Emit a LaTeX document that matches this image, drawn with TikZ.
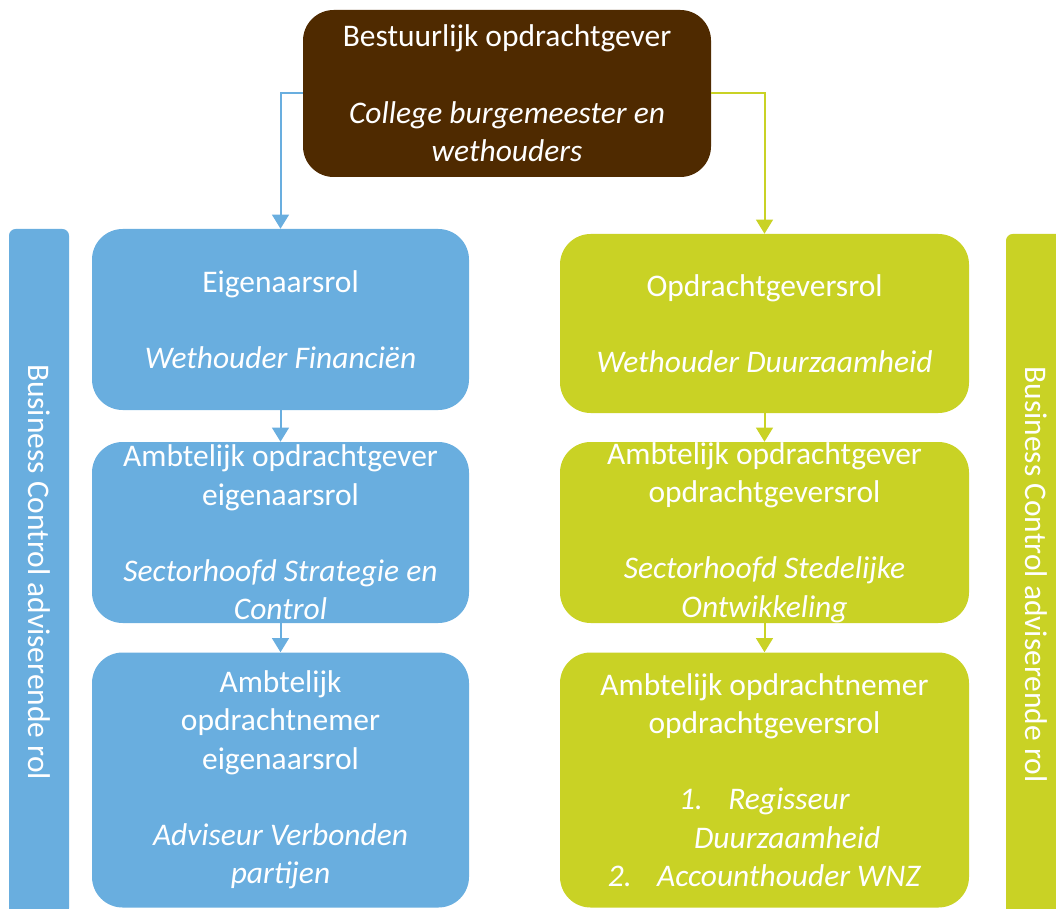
\documentclass[tikz,border=0pt]{standalone}
\usepackage{fontspec}
\setmainfont{Carlito}
\usetikzlibrary{arrows.meta}
\definecolor{cbrown}{HTML}{4F2A00}
\definecolor{cblue}{HTML}{69AEDF}
\definecolor{cgreen}{HTML}{C9D225}
\begin{document}
\begin{tikzpicture}[x=0.75pt,y=-0.75pt,
  txt/.style={text=white,align=center,font=\fontsize{23.6}{28.7}\selectfont},
  box/.style={txt,rounded corners=23pt,inner sep=0pt},
  lbox/.style={box,fill=cblue,minimum width=282.75pt},
  rbox/.style={box,fill=cgreen,minimum width=306.75pt},
  sidebar/.style={txt,rounded corners=5pt,inner sep=0pt,rotate=-90,minimum height=45pt},
  arr/.style={line width=1.5pt,-{Triangle[width=12.5pt,length=10.5pt]}}]
\useasboundingbox (0,0) rectangle (1056,909);
\clip (0,0) rectangle (1056,909);
% top
\node[box,fill=cbrown,minimum width=306pt,minimum height=125.25pt] (top) at (507,93.5)
  {Bestuurlijk opdrachtgever\\[28.7pt]\textit{College burgemeester en}\\\textit{wethouders}};
% left column
\node[lbox,minimum height=135.75pt] (lb1) at (280.5,319.5)
  {Eigenaarsrol\\[28.7pt]\textit{Wethouder Financiën}};
\node[lbox,minimum height=135.75pt] (lb2) at (280.5,532.5)
  {Ambtelijk opdrachtgever\\eigenaarsrol\\[28.7pt]\textit{Sectorhoofd Strategie en}\\\textit{Control}};
\node[lbox,minimum height=191.25pt] (lb3) at (280.5,780)
  {Ambtelijk\\opdrachtnemer\\eigenaarsrol\\[28.7pt]\textit{Adviseur Verbonden}\\\textit{partijen}};
% right column
\node[rbox,minimum height=134.25pt] (rb1) at (764.5,323.5)
  {Opdrachtgeversrol\\[28.7pt]\textit{Wethouder Duurzaamheid}};
\node[rbox,minimum height=135.75pt] (rb2) at (764.5,532.5)
  {Ambtelijk opdrachtgever\\opdrachtgeversrol\\[28.7pt]\textit{Sectorhoofd Stedelijke}\\\textit{Ontwikkeling}};
\node[rbox,minimum height=191.25pt] (rb3) at (764.5,780)
  {Ambtelijk opdrachtnemer\\opdrachtgeversrol\\[28.7pt]\textit{1.\hspace{19pt}Regisseur}\\\hspace*{34pt}\textit{Duurzaamheid}\\\textit{2.\hspace{19pt}Accounthouder WNZ}};
% side bars
\node[sidebar,fill=cblue,minimum width=514.5pt] (lbar) at (39,572) {Business Control adviserende rol};
\node[sidebar,fill=cgreen,minimum width=510.75pt] (rbar) at (1036,574.5) {Business Control adviserende rol};
% arrows
\draw[arr,cblue] (top.west) -| (lb1.north);
\draw[arr,cgreen] (top.east) -| (rb1.north);
\draw[arr,cblue] (lb1.south) -- (lb2.north);
\draw[arr,cblue] (lb2.south) -- (lb3.north);
\draw[arr,cgreen] (rb1.south) -- (rb2.north);
\draw[arr,cgreen] (rb2.south) -- (rb3.north);
\end{tikzpicture}
\end{document}
